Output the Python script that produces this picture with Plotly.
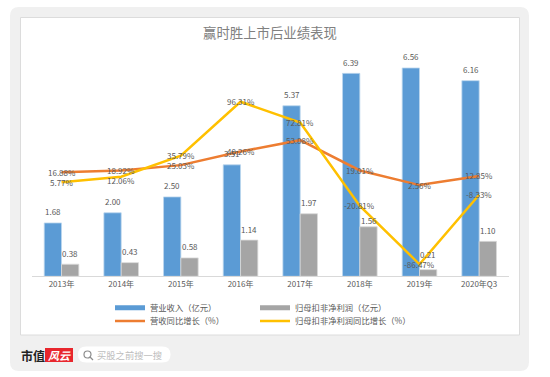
import plotly.graph_objects as go

categories = ["2013年", "2014年", "2015年", "2016年", "2017年", "2018年", "2019年", "2020年Q3"]
revenue = [1.68, 2.00, 2.50, 3.51, 5.37, 6.39, 6.56, 6.16]
profit = [0.38, 0.43, 0.58, 1.14, 1.97, 1.56, 0.21, 1.10]
revenue_growth = [16.88, 18.92, 25.03, 40.26, 53.08, 19.01, 2.56, 12.85]
profit_growth = [5.77, 12.06, 35.79, 96.31, 72.81, -20.81, -86.47, -8.33]

names = ["营业收入（亿元）", "归母扣非净利润（亿元）", "营收同比增长（%）", "归母扣非净利润同比增长（%）"]
BLUE, GRAY, ORANGE, YELLOW = "#5B9BD5", "#A5A5A5", "#ED7D31", "#FFC000"
TXT = "#595959"
FONT = "Noto Sans CJK SC"
W, H = 550, 377
BAR_OFFSET = 8.66      # half a bar, in pixels
LABEL_GAP = 11         # label centre above a bar top, in pixels
PROFIT_LABEL_GAP = {5: 6, 6: 15}   # labels the reference moved off the lines
YELLOW_LABEL_SHIFT = {1: -4}


def px(x):
    return x / W


def py(y):
    return 1 - y / H


fig = go.Figure()
fig.add_bar(x=categories, y=revenue, marker=dict(color=BLUE, line=dict(color="#BDD7EE", width=0.8)),
            showlegend=False, name=names[0])
fig.add_bar(x=categories, y=profit, marker=dict(color=GRAY, line=dict(color="#D9D9D9", width=0.8)),
            showlegend=False, name=names[1])
# legend keys for the bars are drawn as wide flat swatches, as in the reference
fig.add_scatter(x=[None], y=[None], mode="lines", name=names[0], line=dict(color=BLUE, width=5), legend="legend")
fig.add_scatter(x=[None], y=[None], mode="lines", name=names[1], line=dict(color=GRAY, width=5), legend="legend2")
fig.add_scatter(x=categories, y=revenue_growth, yaxis="y2", mode="lines", name=names[2],
                line=dict(color=ORANGE, width=2.5), legend="legend3")
fig.add_scatter(x=categories, y=profit_growth, yaxis="y2", mode="lines", name=names[3],
                line=dict(color=YELLOW, width=2.5), legend="legend4")


def rounded(x0, y0, x1, y1, r):
    a, b, c, d = px(x0), py(y0), px(x1), py(y1)
    rx, ry = r / W, r / H
    return (f"M{a+rx},{b} L{c-rx},{b} Q{c},{b} {c},{b-ry} L{c},{d+ry} Q{c},{d} {c-rx},{d} "
            f"L{a+rx},{d} Q{a},{d} {a},{d+ry} L{a},{b-ry} Q{a},{b} {a+rx},{b} Z")


def paper_shape(**kw):
    return dict(xref="paper", yref="paper", layer="below", **kw)


def legend_at(x, y):
    return dict(x=px(x), y=py(y), xanchor="left", yanchor="middle", itemwidth=30,
                font=dict(size=8.3, color=TXT), bgcolor="rgba(0,0,0,0)", itemclick=False, itemdoubleclick=False)


def note(text, x, y, size, color):
    return dict(text=text, x=px(x), y=py(y), xref="paper", yref="paper", showarrow=False,
                xanchor="center", yanchor="middle", font=dict(size=size, color=color))


def value_label(text, cat, value, yref="y", xshift=0, yshift=0):
    return dict(text=text, x=cat, y=value, xref="x", yref=yref, xshift=xshift, yshift=yshift,
                showarrow=False, xanchor="center", yanchor="middle", font=dict(size=8, color=TXT))


shapes = [
    paper_shape(type="path", path=rounded(10, 7, 529, 371, 9), fillcolor="#F0F0F0", line=dict(width=0)),
    paper_shape(type="rect", x0=px(20.5), x1=px(519.5), y0=py(17.5), y1=py(335),
                fillcolor="#FFFFFF", line=dict(color="#DCDCDC", width=1)),
    paper_shape(type="rect", x0=px(45), x1=px(73), y0=py(348), y1=py(362), fillcolor="#E8262D", line=dict(width=0)),
    paper_shape(type="path", path=rounded(78, 346.5, 170.5, 362.5, 8), fillcolor="#FFFFFF", line=dict(width=0)),
    paper_shape(type="circle", x0=px(84), x1=px(91), y0=py(351), y1=py(358), line=dict(color="#8C8C8C", width=1.2)),
    paper_shape(type="line", x0=px(90), x1=px(93), y0=py(357), y1=py(360), line=dict(color="#8C8C8C", width=1.2)),
]

annotations = [
    note("赢时胜上市后业绩表现", 270, 32, 13.4, "#808080"),
    note("<b>市值</b>", 32.5, 355, 12, "#222222"),
    note("<b><i>风云</i></b>", 59, 355, 11, "#FFFFFF"),
    note("买股之前搜一搜", 129.5, 354.5, 9.3, "#BDBDBD"),
]
for i, cat in enumerate(categories):
    annotations.append(value_label(f"{revenue[i]:.2f}", cat, revenue[i], xshift=-BAR_OFFSET, yshift=LABEL_GAP))
    annotations.append(value_label(f"{profit[i]:.2f}", cat, profit[i], xshift=BAR_OFFSET,
                                   yshift=PROFIT_LABEL_GAP.get(i, LABEL_GAP)))
    annotations.append(value_label(f"{revenue_growth[i]:.2f}%", cat, revenue_growth[i], yref="y2"))
    annotations.append(value_label(f"{profit_growth[i]:.2f}%", cat, profit_growth[i], yref="y2",
                                   yshift=YELLOW_LABEL_SHIFT.get(i, 0)))

fig.update_layout(
    width=W, height=H, margin=dict(l=0, r=0, t=0, b=0, pad=0, autoexpand=False), autosize=False,
    paper_bgcolor="#FFFFFF", plot_bgcolor="rgba(0,0,0,0)",
    font=dict(family=FONT, color=TXT, size=8),
    barmode="group", bargap=0.42, bargroupgap=0,
    xaxis=dict(domain=[px(31.7), px(509)], type="category", showgrid=False, zeroline=False, showline=True,
               linecolor="#D9D9D9", linewidth=1, ticks="", tickfont=dict(size=8, color=TXT)),
    yaxis=dict(domain=[py(276.3), py(54)], range=[0, 7], visible=False, fixedrange=True),
    yaxis2=dict(domain=[py(276.3), py(54)], range=[-100, 150], overlaying="y", visible=False),
    legend=legend_at(110, 307.7),
    legend2=legend_at(255, 307.7),
    legend3=legend_at(110, 321),
    legend4=legend_at(255, 321),
    shapes=shapes, annotations=annotations, showlegend=True,
)

fig.write_html("out.html", config=dict(displayModeBar=False),
               post_script="document.body.style.margin='0';document.body.style.overflow='hidden';")
